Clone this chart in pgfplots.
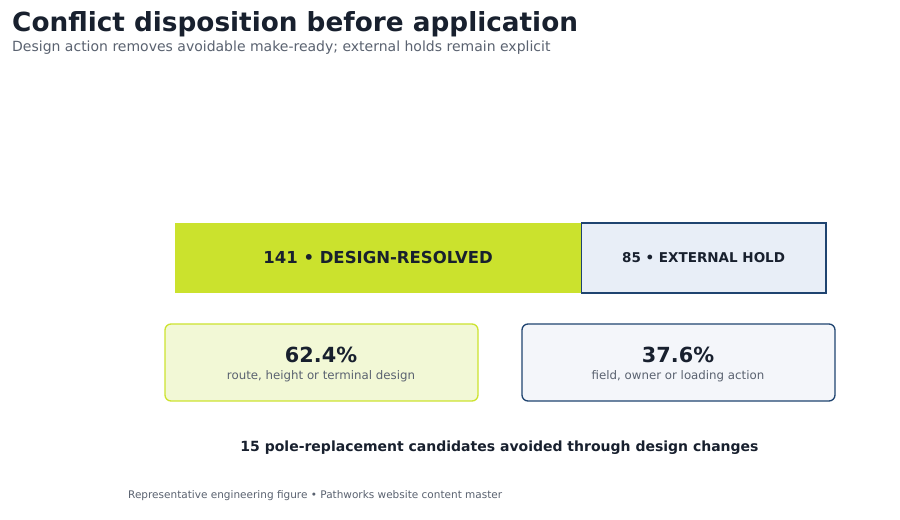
\documentclass[border=0pt]{standalone}
\usepackage{pgfplots}
\pgfplotsset{compat=1.18}
\usepackage{fontspec}
\setmainfont{DejaVu Sans}
\definecolor{lime}{HTML}{CBE22D}
\definecolor{limeborder}{HTML}{CDE330}
\definecolor{limefill}{HTML}{F2F8D6}
\definecolor{holdfill}{HTML}{E8EEF7}
\definecolor{navy}{HTML}{1F4470}
\definecolor{cardfill}{HTML}{F4F6FA}
\definecolor{ink}{HTML}{18202E}
\definecolor{subgray}{HTML}{5A6270}
\begin{document}
\begin{tikzpicture}[x=1bp,y=1bp]
\path[fill=white] (0,0) rectangle (900,520);
% title
\node[anchor=base west, inner sep=0, text=ink, font=\fontsize{26.3bp}{30bp}\selectfont\bfseries] at (12,488) {Conflict disposition before application};
\node[anchor=base west, inner sep=0, text=subgray, font=\fontsize{14bp}{17bp}\selectfont] at (12,468) {Design action removes avoidable make-ready; external holds remain explicit};
\begin{axis}[at={(175bp,227bp)}, anchor=south west, scale only axis,
  width=651bp, height=70bp, xmin=0, xmax=226, ymin=-0.5, ymax=0.5,
  axis lines=none, xbar stacked, bar width=70bp, clip=false, ytick=\empty, xtick=\empty]
\addplot[fill=lime, draw=none] coordinates {(141,0)};
\addplot[fill=holdfill, draw=navy, line width=1.3bp] coordinates {(85,0)};
\coordinate (LA) at (axis cs:70.5,0);
\coordinate (LB) at (axis cs:183.5,0);
\end{axis}
\node[text=ink, font=\fontsize{16.5bp}{20bp}\selectfont\bfseries] at (LA) {141 • DESIGN-RESOLVED};
\node[text=ink, font=\fontsize{13.5bp}{16bp}\selectfont\bfseries] at (LB) {85 • EXTERNAL HOLD};
% cards
\draw[rounded corners=6bp, line width=1.3bp, draw=limeborder, fill=limefill] (165,196) rectangle (478,119);
\draw[rounded corners=6bp, line width=1.3bp, draw=navy, fill=cardfill] (522,196) rectangle (835,119);
\node[text=ink, font=\fontsize{20.8bp}{24bp}\selectfont\bfseries] at (321,165) {62.4\%};
\node[text=subgray, font=\fontsize{11.8bp}{14bp}\selectfont] at (321,144) {route, height or terminal design};
\node[text=ink, font=\fontsize{20.8bp}{24bp}\selectfont\bfseries] at (678,165) {37.6\%};
\node[text=subgray, font=\fontsize{11.8bp}{14bp}\selectfont] at (678,144) {field, owner or loading action};
\node[text=ink, font=\fontsize{14bp}{17bp}\selectfont\bfseries] at (499.5,72) {15 pole-replacement candidates avoided through design changes};
\node[anchor=west, inner sep=0, text=subgray, font=\fontsize{10.5bp}{13bp}\selectfont] at (128,24) {Representative engineering figure • Pathworks website content master};
\end{tikzpicture}
\end{document}
